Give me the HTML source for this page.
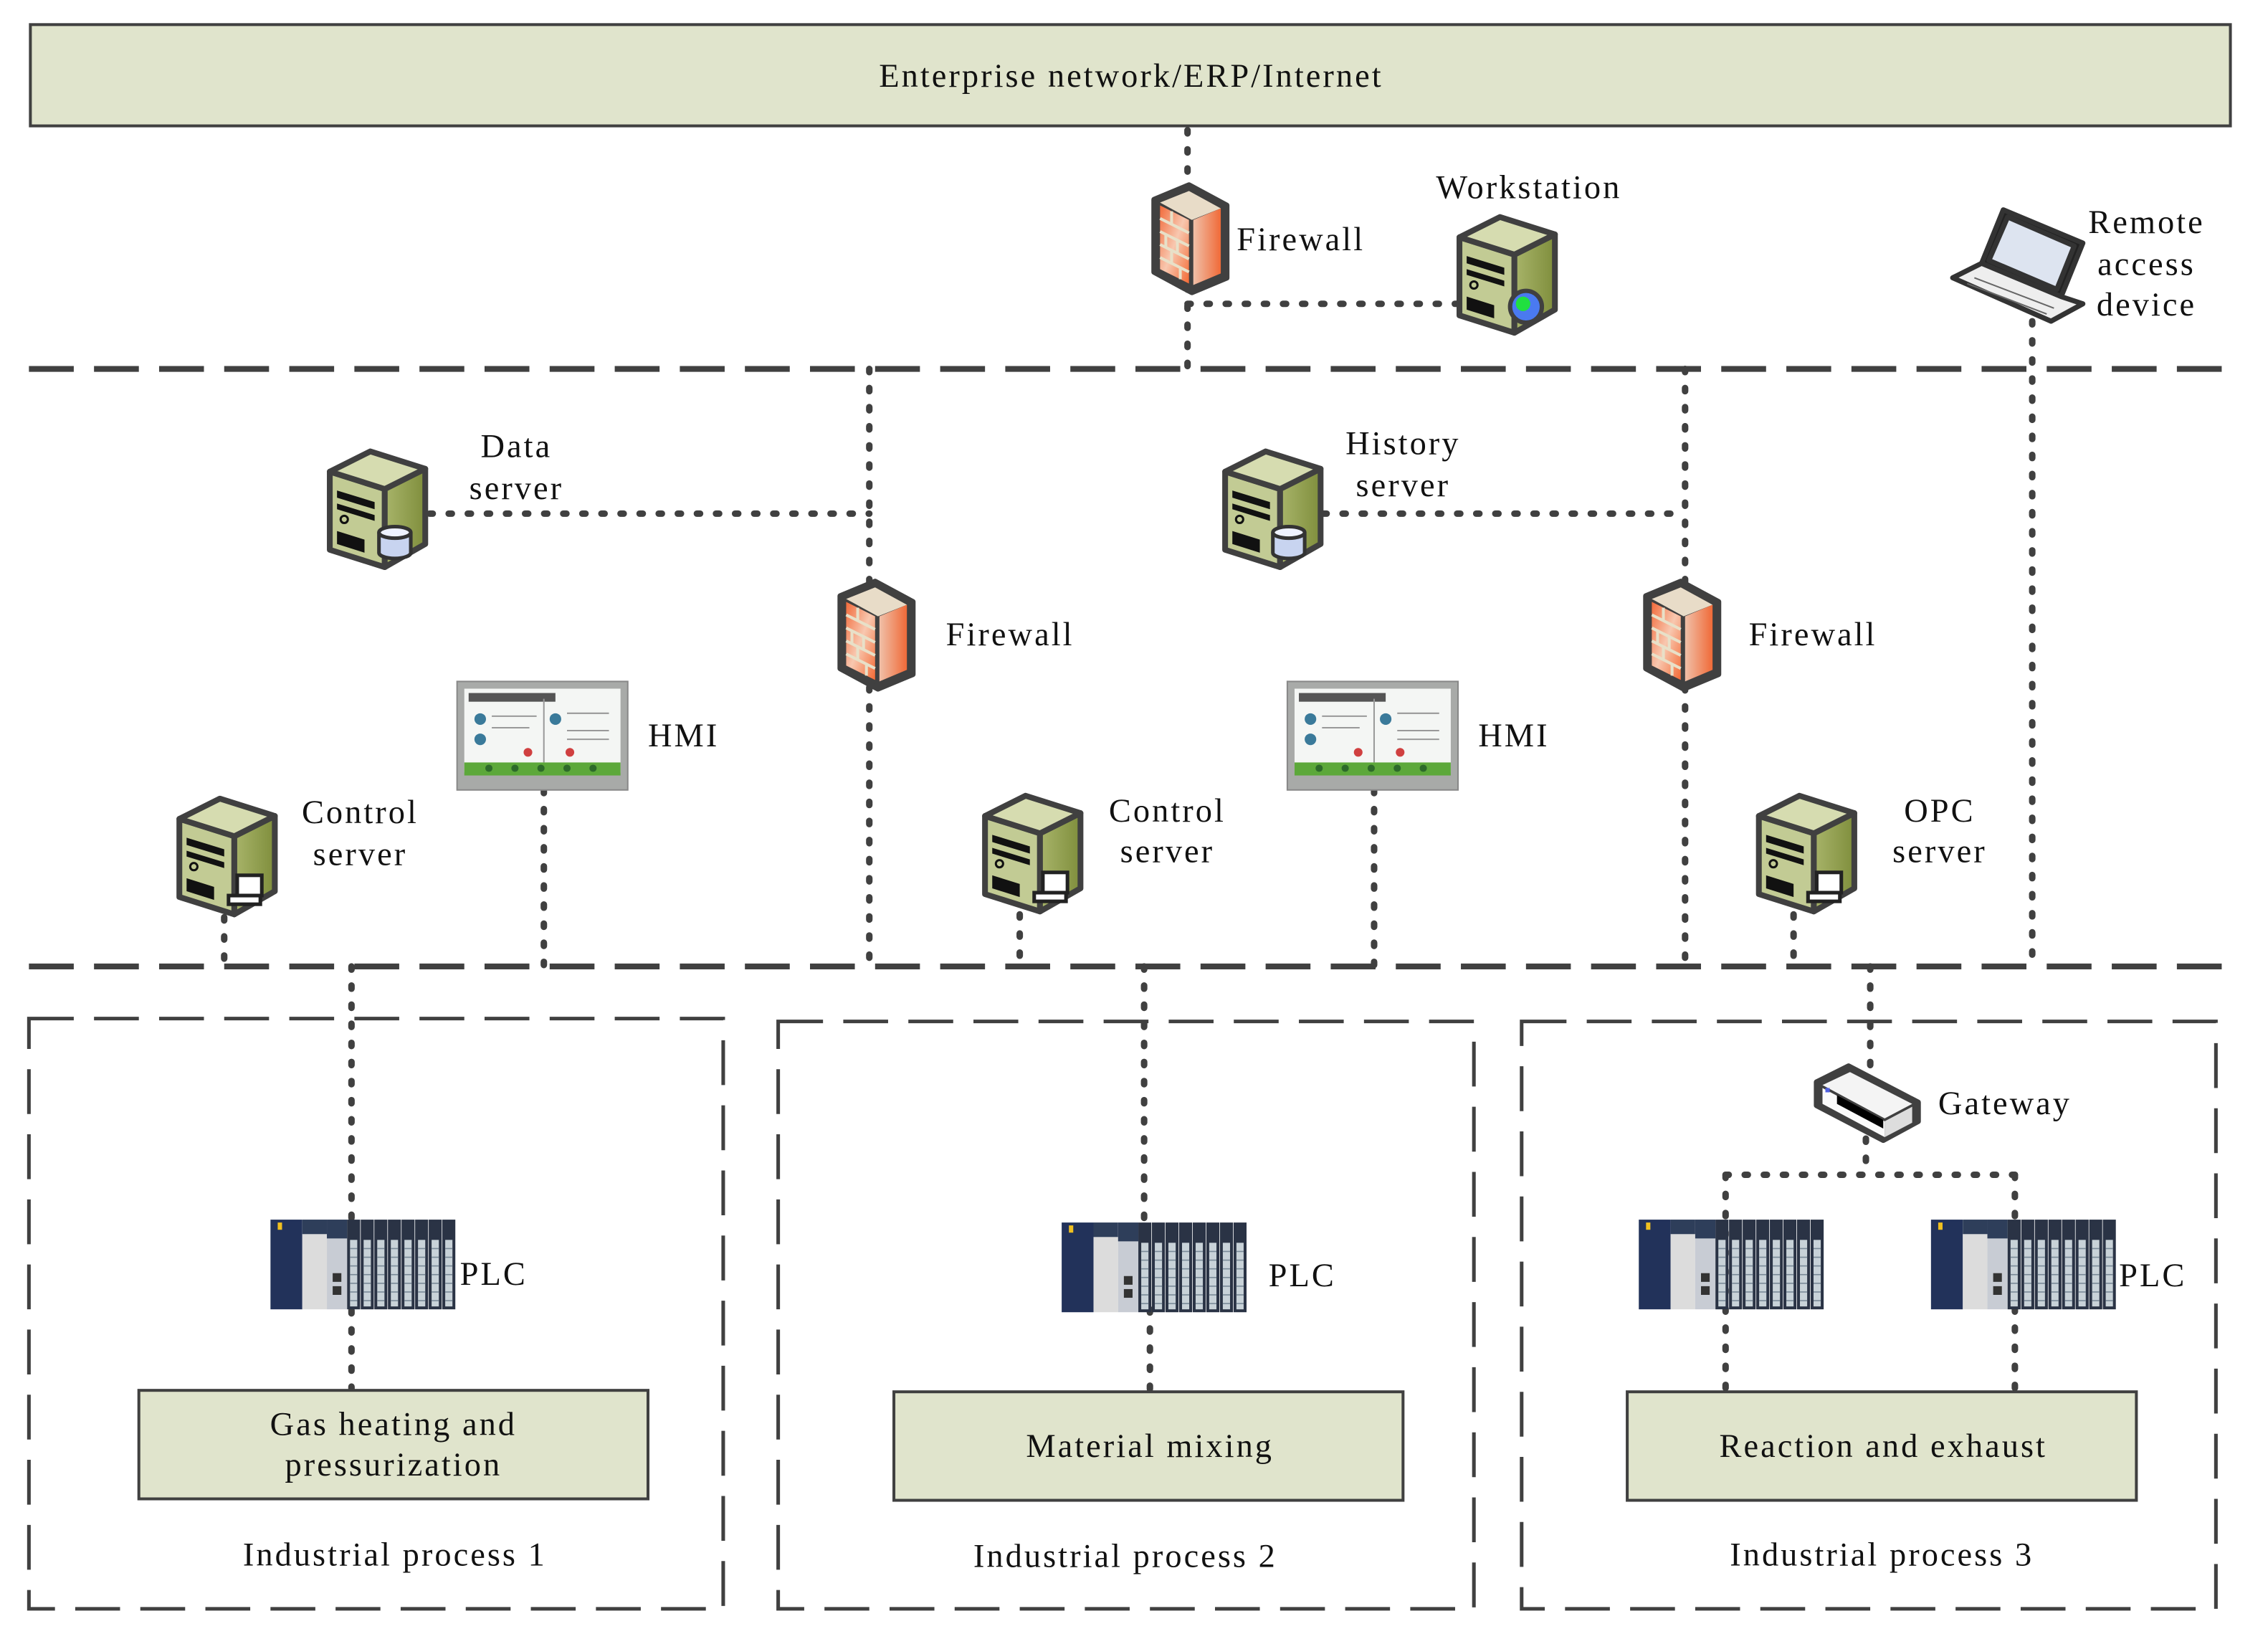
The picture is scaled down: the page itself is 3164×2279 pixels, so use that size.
<!DOCTYPE html>
<html><head><meta charset="utf-8"><style>
html,body{margin:0;padding:0;background:#fff;}
svg{display:block;}
text{font-family:"Liberation Serif",serif;font-size:23px;letter-spacing:1.5px;fill:#111;}
</style></head><body>
<svg width="3164" height="2279" viewBox="0 0 1568 1129.4" xmlns="http://www.w3.org/2000/svg">
<defs>
<linearGradient id="fw" x1="0" y1="0" x2="1" y2="1"><stop offset="0" stop-color="#f26a3a"/><stop offset="0.5" stop-color="#f8c8b0"/><stop offset="1" stop-color="#f46a35"/></linearGradient>
<linearGradient id="fws" x1="0" y1="0" x2="1" y2="0"><stop offset="0" stop-color="#f0c0a8"/><stop offset="1" stop-color="#f06a38"/></linearGradient>
<linearGradient id="svs" x1="0" y1="0" x2="1" y2="0"><stop offset="0" stop-color="#a8b46a"/><stop offset="1" stop-color="#7f8e3c"/></linearGradient>
<g id="server">
  <polygon points="2,16 40,28 40,82 2,70" fill="#c2cb94" stroke="#404040" stroke-width="4" stroke-linejoin="round"/>
  <polygon points="40,28 68,14 68,66 40,82" fill="url(#svs)" stroke="#404040" stroke-width="4" stroke-linejoin="round"/>
  <polygon points="2,16 30,2 68,14 40,28" fill="#d6dcb0" stroke="#404040" stroke-width="4" stroke-linejoin="round"/>
  <polygon points="7,29 33,37 33,42 7,34" fill="#111"/>
  <polygon points="7,38 33,46 33,50 7,42" fill="#111"/>
  <circle cx="12" cy="49" r="2.5" fill="none" stroke="#111" stroke-width="1.5"/>
  <polygon points="7,57 26,63 26,72 7,66" fill="#111"/>
</g>
<g id="fwall">
  <polygon points="2,12 26,2 52,16 52,66 28,76 2,62" fill="#404040" stroke="#404040" stroke-width="4" stroke-linejoin="round"/>
  <polygon points="6,14 26,6 48,18 28,26" fill="#e8dcc8"/>
  <polygon points="6,16 26,26 26,70 6,60" fill="url(#fw)"/>
  <polygon points="29,26 48,18 48,63 29,71" fill="url(#fws)"/>
  <g stroke="#e8e0c8" stroke-width="2">
    <line x1="6" y1="25" x2="26" y2="35"/><line x1="6" y1="34" x2="26" y2="44"/><line x1="6" y1="43" x2="26" y2="53"/><line x1="6" y1="52" x2="26" y2="62"/>
    <line x1="14" y1="20" x2="14" y2="29"/><line x1="10" y1="36" x2="10" y2="45"/><line x1="18" y1="40" x2="18" y2="49"/><line x1="14" y1="47" x2="14" y2="56"/><line x1="20" y1="59" x2="20" y2="67"/>
  </g>
</g>
<g id="hmi">
  <rect x="0" y="0" width="118" height="75" fill="#a8aaa8" stroke="#888" stroke-width="1"/>
  <rect x="5" y="5" width="108" height="58" fill="#f4f6f4"/>
  <rect x="8" y="8" width="60" height="6" fill="#555"/>
  <circle cx="16" cy="26" r="4" fill="#3a7a9a"/><circle cx="16" cy="40" r="4" fill="#3a7a9a"/>
  <circle cx="68" cy="26" r="4" fill="#3a7a9a"/><circle cx="78" cy="49" r="3" fill="#d04040"/><circle cx="49" cy="49" r="3" fill="#d04040"/>
  <g stroke="#999" stroke-width="1"><line x1="24" y1="24" x2="55" y2="24"/><line x1="24" y1="32" x2="50" y2="32"/><line x1="76" y1="22" x2="105" y2="22"/><line x1="76" y1="34" x2="105" y2="34"/><line x1="76" y1="40" x2="105" y2="40"/><line x1="60" y1="12" x2="60" y2="56"/></g>
  <rect x="5" y="56" width="108" height="9" fill="#5ca83a"/>
  <g fill="#2d6a2a"><circle cx="22" cy="60" r="2.5"/><circle cx="40" cy="60" r="2.5"/><circle cx="58" cy="60" r="2.5"/><circle cx="76" cy="60" r="2.5"/><circle cx="94" cy="60" r="2.5"/></g>
</g>
<g id="plc">
  <rect x="0" y="0" width="22" height="62" fill="#22325a"/>
  <rect x="5" y="2" width="3" height="5" fill="#f0c020"/>
  <rect x="22" y="0" width="17" height="62" fill="#dcdcdc"/>
  <rect x="22" y="0" width="17" height="10" fill="#2e3e5a"/>
  <rect x="39" y="0" width="14" height="62" fill="#c8ccd4"/>
  <rect x="39" y="0" width="14" height="13" fill="#2e3e5a"/>
  <rect x="43" y="37" width="6" height="6" fill="#333"/><rect x="43" y="46" width="6" height="6" fill="#333"/>
  <g id="mod"><rect x="53" y="0" width="9" height="62" fill="#2a3345"/><rect x="55" y="14" width="5" height="46" fill="#c8d2d8"/>
  <g stroke="#7a8a98" stroke-width="0.8"><line x1="55" y1="20" x2="60" y2="20"/><line x1="55" y1="26" x2="60" y2="26"/><line x1="55" y1="32" x2="60" y2="32"/><line x1="55" y1="38" x2="60" y2="38"/><line x1="55" y1="44" x2="60" y2="44"/><line x1="55" y1="50" x2="60" y2="50"/><line x1="55" y1="56" x2="60" y2="56"/></g></g>
  <use href="#mod" x="9.4"/><use href="#mod" x="18.8"/><use href="#mod" x="28.2"/><use href="#mod" x="37.6"/><use href="#mod" x="47"/><use href="#mod" x="56.4"/><use href="#mod" x="65.8"/>
</g>
<g id="monitor">
  <rect x="0" y="0" width="17" height="14" fill="#fff" stroke="#222" stroke-width="2.5"/>
  <rect x="-6" y="14" width="22" height="6" fill="#fff" stroke="#222" stroke-width="2.5"/>
</g>
<g id="db">
  <path d="M0,4 v14 a11,4 0 0 0 22,0 v-14" fill="#c8d4f0" stroke="#333" stroke-width="2.5"/>
  <ellipse cx="11" cy="4" rx="11" ry="4" fill="#eef2ff" stroke="#333" stroke-width="2.5"/>
</g>
</defs>

<rect x="21" y="17" width="1521" height="70" fill="#e0e4cc" stroke="#404040" stroke-width="2"/>
<text x="782" y="60" text-anchor="middle">Enterprise network/ERP/Internet</text>

<g stroke="#404040" stroke-width="4.5" stroke-linecap="round" stroke-dasharray="2.2 11" fill="none">
  <path d="M821,90 V130"/>
  <path d="M821,198 V255"/>
  <path d="M821,210 H1008"/>
  <path d="M601,255 V403"/>
  <path d="M601,475 V668"/>
  <path d="M297,355 H601"/>
  <path d="M915,355 H1165"/>
  <path d="M1165,255 V403"/>
  <path d="M1165,475 V668"/>
  <path d="M1405,222 V668"/>
  <path d="M376,546 V668"/>
  <path d="M950,546 V668"/>
  <path d="M155,634 V668"/>
  <path d="M705,632 V668"/>
  <path d="M1240,632 V668"/>
  <path d="M243,668 V960"/>
  <path d="M791,668 V905 M795,905 V962"/>
  <path d="M1293,668 V738"/>
  <path d="M1290,787 V812"/>
  <path d="M1193,812 H1393"/>
  <path d="M1193,812 V962"/>
  <path d="M1393,812 V962"/>
</g>

<g stroke="#404040" stroke-width="4" stroke-dasharray="31 14" fill="none">
  <path d="M20,255 H1548"/>
  <path d="M20,668 H1548"/>
</g>
<g stroke="#404040" stroke-width="2.5" stroke-dasharray="31 14" fill="none">
  <rect x="20" y="704" width="480" height="408"/>
  <rect x="538" y="706" width="481" height="406"/>
  <rect x="1052" y="706" width="480" height="406"/>
</g>

<use href="#fwall" x="796" y="126"/>
<use href="#fwall" x="579" y="400"/>
<use href="#fwall" x="1136" y="400"/>
<use href="#server" x="1007" y="148"/>
<circle cx="1055" cy="212" r="11" fill="#4a7af0" stroke="#404040" stroke-width="3"/>
<circle cx="1053" cy="210" r="5" fill="#20e040"/>
<use href="#server" x="226" y="310"/>
<use href="#db" x="262" y="364"/>
<use href="#server" x="845" y="310"/>
<use href="#db" x="880" y="364"/>
<use href="#server" x="122" y="550"/>
<use href="#monitor" x="164" y="605"/>
<use href="#server" x="679" y="548"/>
<use href="#monitor" x="721" y="603"/>
<use href="#server" x="1214" y="548"/>
<use href="#monitor" x="1256" y="603"/>
<use href="#hmi" x="316" y="471"/>
<use href="#hmi" x="890" y="471"/>
<use href="#plc" x="187" y="843"/>
<use href="#plc" x="734" y="845"/>
<use href="#plc" x="1133" y="843"/>
<use href="#plc" x="1335" y="843"/>

<g stroke="#333" stroke-width="3.5" stroke-linejoin="round">
  <polygon points="1370,182 1385,145 1440,168 1425,205" fill="#222"/>
  <polygon points="1375,180 1388,150 1434,170 1422,200" fill="#dde4f0"/>
  <polygon points="1350,192 1370,182 1425,205 1440,210 1418,222" fill="#eee"/>
</g>
<g stroke="#666" stroke-width="1"><line x1="1365" y1="192" x2="1420" y2="213"/><line x1="1360" y1="196" x2="1415" y2="217"/></g>

<g stroke-linejoin="round">
  <polygon points="1256,748 1278,737 1326,762 1326,775 1302,788 1256,764" fill="#404040" stroke="#404040" stroke-width="4"/>
  <polygon points="1260,750 1279,741 1322,763 1303,773" fill="#f4f4f4"/>
  <polygon points="1260,752 1303,775 1303,786 1260,763" fill="#fafafa"/>
  <polygon points="1303,775 1322,765 1322,776 1303,786" fill="#ddd"/>
  <polygon points="1270,757 1302,774 1302,780 1270,763" fill="#000"/>
  <rect x="1262" y="752" width="3" height="3" fill="#5060e0"/>
</g>

<g fill="#e0e4cc" stroke="#404040" stroke-width="2">
  <rect x="96" y="961" width="352" height="75"/>
  <rect x="618" y="962" width="352" height="75"/>
  <rect x="1125" y="962" width="352" height="75"/>
</g>

<text x="855" y="173">Firewall</text>
<text x="1057" y="137" text-anchor="middle">Workstation</text>
<text x="1484" y="161" text-anchor="middle">Remote</text>
<text x="1484" y="190" text-anchor="middle">access</text>
<text x="1484" y="218" text-anchor="middle">device</text>
<text x="357" y="316" text-anchor="middle">Data</text>
<text x="357" y="345" text-anchor="middle">server</text>
<text x="970" y="314" text-anchor="middle">History</text>
<text x="970" y="343" text-anchor="middle">server</text>
<text x="654" y="446">Firewall</text>
<text x="1209" y="446">Firewall</text>
<text x="448" y="516">HMI</text>
<text x="1022" y="516">HMI</text>
<text x="249" y="569" text-anchor="middle">Control</text>
<text x="249" y="598" text-anchor="middle">server</text>
<text x="807" y="568" text-anchor="middle">Control</text>
<text x="807" y="596" text-anchor="middle">server</text>
<text x="1341" y="568" text-anchor="middle">OPC</text>
<text x="1341" y="596" text-anchor="middle">server</text>
<text x="1340" y="770">Gateway</text>
<text x="318" y="888">PLC</text>
<text x="877" y="889">PLC</text>
<text x="1465" y="889">PLC</text>
<text x="272" y="992" text-anchor="middle">Gas heating and</text>
<text x="272" y="1020" text-anchor="middle">pressurization</text>
<text x="795" y="1007" text-anchor="middle">Material mixing</text>
<text x="1302" y="1007" text-anchor="middle">Reaction and exhaust</text>
<text x="273" y="1082" text-anchor="middle">Industrial process 1</text>
<text x="778" y="1083" text-anchor="middle">Industrial process 2</text>
<text x="1301" y="1082" text-anchor="middle">Industrial process 3</text>
</svg>
</body></html>
